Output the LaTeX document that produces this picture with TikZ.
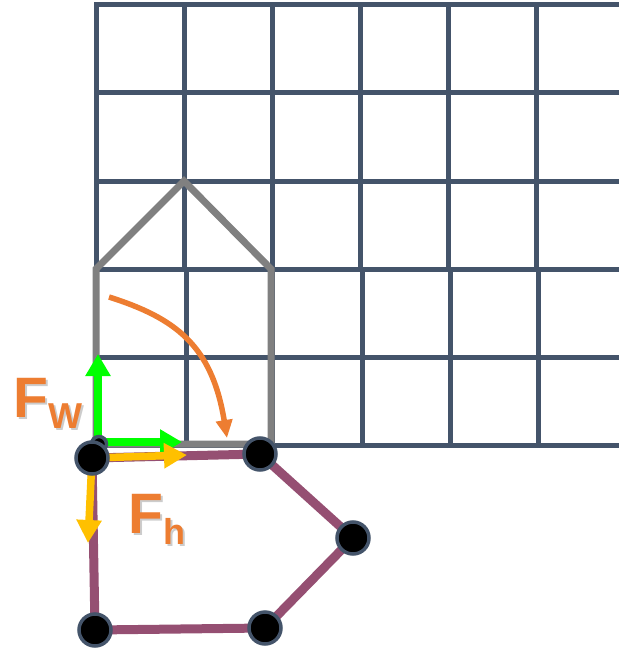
\documentclass[tikz,border=0pt]{standalone}
\usepackage{fontspec}
\setmainfont{Liberation Sans}
\usetikzlibrary{arrows.meta}
\definecolor{gridblue}{RGB}{68,84,106}
\definecolor{housegray}{RGB}{128,128,128}
\definecolor{swingorange}{RGB}{237,125,49}
\definecolor{forcegreen}{RGB}{0,255,0}
\definecolor{forceyellow}{RGB}{255,192,0}
\definecolor{linkpurple}{RGB}{149,79,114}
\newcommand{\subfont}{\fontsize{36}{36}\selectfont}
% label with a soft shadow behind it
\newcommand{\shadowed}[1]{%
  \rlap{\kern2pt\raisebox{-2pt}{\color{black!20}#1}}#1}
\begin{document}
\begin{tikzpicture}[
  x=1pt, y=-1pt,
  gridline/.style = {draw=gridblue, line width=5pt},
  house/.style = {draw=housegray, line width=7pt, line join=miter},
  swing/.style = {draw=swingorange, line width=5.5pt,
    -{Triangle[length=18pt, width=16pt]}},
  greenarr/.style = {draw=forcegreen, line width=7.5pt,
    -{Triangle[length=22pt, width=24pt]}},
  yellowarr/.style = {draw=forceyellow, line width=7.5pt,
    -{Triangle[length=23pt, width=24pt]}},
  link/.style = {draw=linkpurple, line width=9pt, line join=round},
  joint/.style = {circle, fill=black, draw=gridblue, line width=3.5pt,
    minimum size=32pt, inner sep=0pt},
  smalljoint/.style = {joint, minimum size=15pt},
  flabel/.style = {inner sep=0pt, anchor=base west, text=swingorange,
    font=\fontsize{57}{57}\selectfont\bfseries}
]
\useasboundingbox (0,0) rectangle (618,650);

% grid
\foreach \y in {5,93,181,269,357,445}
  \draw[gridline] (94,\y) -- (620,\y);
\foreach \x in {96,184,272,360,448,536}
  \draw[gridline] (\x,3) -- (\x,269);
\foreach \x in {96,186,272,362,450,538}
  \draw[gridline] (\x,269) -- (\x,447);

% house outline
\coordinate (hbl) at (96,444);
\coordinate (hl)  at (96,269);
\coordinate (ht)  at (184,181);
\coordinate (hr)  at (271,269);
\coordinate (hbr) at (271,444);
\draw[house] (hbl) -- (hl) -- (ht) -- (hr) -- (hbr) -- cycle;

% swing
\coordinate (sw1) at (109,297);
\coordinate (sw2) at (227,438);
\draw[swing] (sw1) .. controls (175,318) and (212,345) .. (sw2);

% force on the house corner
\coordinate (g0) at (98,442);
\coordinate (gup) at (98,354);
\coordinate (gright) at (182,442);
\draw[greenarr] (g0) -- (gup);
\draw[greenarr] (g0) -- (gright);
\node[smalljoint] (c0) at (99,444) {};

% linkage
\coordinate (p1) at (92,458);
\coordinate (p2) at (260,454);
\coordinate (p3) at (353,538);
\coordinate (p4) at (265,628);
\coordinate (p5) at (95,630);
\draw[link] (p1) -- (p2) -- (p3) -- (p4) -- (p5) -- cycle;

% forces on the linkage
\coordinate (yright) at (187,455);
\coordinate (ydown) at (88,543);
\draw[yellowarr] (p1) -- (yright);
\draw[yellowarr] (p1) -- (ydown);

\foreach \p in {1,...,5}
  \node[joint] (c\p) at (p\p) {};

% labels
\node[flabel] (fw) at (13,417) {\shadowed{F\raisebox{-11pt}{\subfont W}}};
\node[flabel] (fh) at (128,533) {\shadowed{F\raisebox{-11pt}{\subfont h}}};
\end{tikzpicture}
\end{document}
